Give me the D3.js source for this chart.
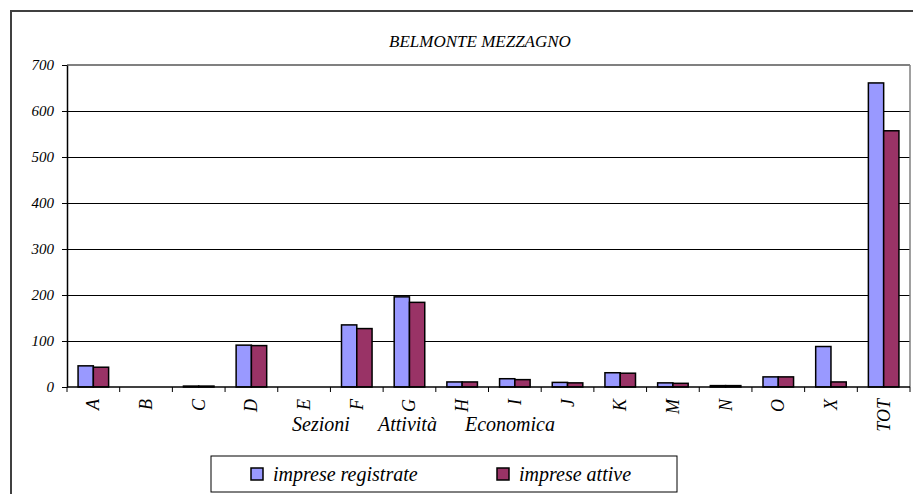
<!DOCTYPE html>
<html>
<head>
<meta charset="utf-8">
<script src="https://cdn.jsdelivr.net/npm/d3@7"></script>
<style>
  body { margin: 0; background: #fff; }
  svg text { font-family: 'Liberation Serif', 'Times New Roman', serif; font-style: italic; fill: #000; }
</style>
</head>
<body>
<div id="main"></div>
<script>
// categories (sezioni attività economica)
const categories = ['A', 'B', 'C', 'D', 'E', 'F', 'G', 'H', 'I', 'J', 'K', 'M', 'N', 'O', 'X', 'TOT'];
// values
const registrate = [46, 0, 2, 91, 0, 135, 196, 11, 18, 10, 31, 9, 3, 22, 88, 661];
const attive = [43, 0, 2, 90, 0, 127, 184, 11, 16, 9, 30, 8, 3, 22, 11, 557];
const seriesNames = ['imprese registrate', 'imprese attive'];
const yTicks = [0, 100, 200, 300, 400, 500, 600, 700];

function main() {
  const width = 913;
  const height = 494;
  const plot = { left: 67, right: 910, top: 65, bottom: 387 };
  const colors = ['#9999ff', '#993366'];

  const svg = d3.select('#main')
    .append('svg')
    .attr('width', width)
    .attr('height', height);

  // outer frame (runs off the right and bottom edges)
  svg.append('rect')
    .attr('x', 11)
    .attr('y', 11)
    .attr('width', 940)
    .attr('height', 520)
    .attr('fill', 'none')
    .attr('stroke', '#404040')
    .attr('stroke-width', 2);

  const xScale = d3.scaleBand()
    .domain(categories)
    .range([plot.left, plot.right])
    .paddingInner(0.42)
    .paddingOuter(0.21);

  const xSub = d3.scaleBand()
    .domain(seriesNames)
    .range([0, xScale.bandwidth()]);

  const yScale = d3.scaleLinear()
    .domain([0, 700])
    .range([plot.bottom, plot.top]);

  // grid lines
  svg.append('g')
    .selectAll('line')
    .data(yTicks.filter(d => d > 0))
    .enter()
    .append('line')
    .attr('x1', plot.left)
    .attr('x2', plot.right)
    .attr('y1', d => yScale(d))
    .attr('y2', d => yScale(d))
    .attr('stroke', d => (d === 700 ? '#808080' : '#000'))
    .attr('stroke-width', d => (d === 700 ? 1.5 : 1))
    .attr('shape-rendering', 'crispEdges');

  // right edge of the plot area
  svg.append('line')
    .attr('x1', plot.right)
    .attr('x2', plot.right)
    .attr('y1', plot.top)
    .attr('y2', plot.bottom)
    .attr('stroke', '#808080')
    .attr('stroke-width', 1.5);

  // bars
  const series = [registrate, attive];
  series.forEach((values, i) => {
    svg.append('g')
      .selectAll('rect')
      .data(values)
      .enter()
      .append('rect')
      .attr('x', (d, j) => xScale(categories[j]) + xSub(seriesNames[i]))
      .attr('y', d => yScale(d))
      .attr('width', xSub.bandwidth())
      .attr('height', d => plot.bottom - yScale(d))
      .attr('fill', colors[i])
      .attr('stroke', '#000')
      .attr('stroke-width', 1.5);
  });

  // y axis
  const yAxis = d3.axisLeft(yScale)
    .tickValues(yTicks)
    .tickSizeInner(5)
    .tickSizeOuter(0)
    .tickPadding(8);
  const gy = svg.append('g')
    .attr('transform', `translate(${plot.left}, 0)`)
    .call(yAxis);
  gy.select('.domain').attr('stroke', '#000').attr('stroke-width', 1.5);
  gy.selectAll('text').style('font-size', '15px');

  // x axis: ticks between categories
  const step = xScale.step();
  const boundaries = d3.range(categories.length + 1).map(i => plot.left + i * step);
  svg.append('line')
    .attr('x1', plot.left)
    .attr('x2', plot.right)
    .attr('y1', plot.bottom)
    .attr('y2', plot.bottom)
    .attr('stroke', '#000')
    .attr('stroke-width', 1.5);
  svg.append('g')
    .selectAll('line')
    .data(boundaries)
    .enter()
    .append('line')
    .attr('x1', d => d)
    .attr('x2', d => d)
    .attr('y1', plot.bottom)
    .attr('y2', plot.bottom + 5)
    .attr('stroke', '#000');

  // rotated category labels
  svg.append('g')
    .selectAll('text')
    .data(categories)
    .enter()
    .append('text')
    .attr('transform', d => `translate(${xScale(d) + xScale.bandwidth() / 2 + 6}, ${plot.bottom + 12}) rotate(-90)`)
    .style('text-anchor', 'end')
    .style('font-size', '18px')
    .text(d => d);

  // title
  svg.append('text')
    .attr('x', 480)
    .attr('y', 47)
    .style('text-anchor', 'middle')
    .style('font-size', '17px')
    .text('BELMONTE MEZZAGNO');

  // x axis title, spread over three words
  const xTitle = svg.append('text')
    .attr('y', 431)
    .style('font-size', '20px');
  [['Sezioni', 292], ['Attività', 378], ['Economica', 465]].forEach(([w, x]) => {
    xTitle.append('tspan').attr('x', x).text(w);
  });

  // legend
  svg.append('rect')
    .attr('x', 211)
    .attr('y', 456)
    .attr('width', 466)
    .attr('height', 36)
    .attr('fill', '#fff')
    .attr('stroke', '#000');
  const legendX = [251, 497];
  seriesNames.forEach((name, i) => {
    svg.append('rect')
      .attr('x', legendX[i])
      .attr('y', 468)
      .attr('width', 12)
      .attr('height', 12)
      .attr('fill', colors[i])
      .attr('stroke', '#000')
      .attr('stroke-width', 1.5);
    svg.append('text')
      .attr('x', legendX[i] + 22)
      .attr('y', 481)
      .style('font-size', '20px')
      .text(name);
  });
}

main();
</script>
</body>
</html>
